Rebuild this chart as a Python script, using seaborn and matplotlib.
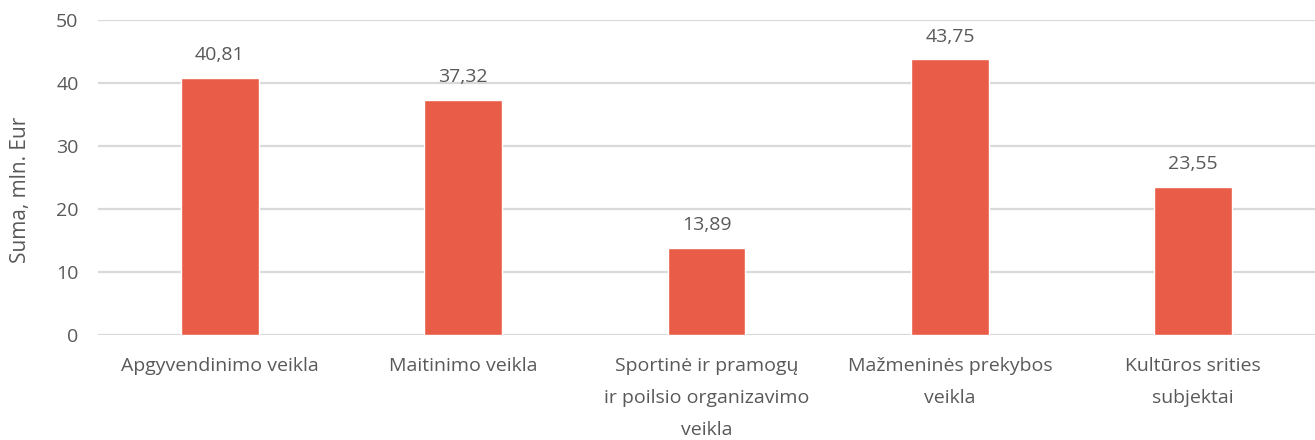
"""
Sumos pagal veiklos sritis (mln. Eur)
"""
import matplotlib
matplotlib.use("Agg")
import matplotlib.pyplot as plt
import seaborn as sns
import pandas as pd

categories = [
    "Apgyvendinimo veikla",
    "Maitinimo veikla",
    "Sportinė ir pramogų\nir poilsio organizavimo\nveikla",
    "Mažmeninės prekybos\nveikla",
    "Kultūros srities\nsubjektai",
]
values = [40.81, 37.32, 13.89, 43.75, 23.55]
value_labels = ["40,81", "37,32", "13,89", "43,75", "23,55"]
y_ticks = [0, 10, 20, 30, 40, 50]

BAR_COLOR = "#E95D48"
TEXT_COLOR = "#595959"
GRID_COLOR = "#D9D9D9"

sns.set_theme(style="white")
plt.rcParams["font.family"] = ["Open Sans", "DejaVu Sans"]

df = pd.DataFrame({"category": categories, "value": values})

fig = plt.figure(figsize=(13.15, 4.4), dpi=100)
ax = fig.add_axes([0.0745, 0.2386, 0.9255, 0.7159])

sns.barplot(data=df, x="category", y="value", color=BAR_COLOR,
            width=0.32, saturation=1, ax=ax, zorder=3)

# 値ラベル
ax.bar_label(ax.containers[0], labels=value_labels, padding=10,
             fontsize=14, color=TEXT_COLOR)

ax.set_ylim(0, 50)
ax.set_yticks(y_ticks)
ax.set_xlim(-0.5, len(categories) - 0.5)
ax.yaxis.grid(True, color=GRID_COLOR, linewidth=1.6, zorder=0)
ax.set_axisbelow(True)

for s in ax.spines.values():
    s.set_visible(False)

ax.tick_params(axis="both", length=0, colors=TEXT_COLOR, labelsize=14)
ax.tick_params(axis="y", pad=14)
ax.tick_params(axis="x", pad=16)
for lbl in ax.get_xticklabels():
    lbl.set_linespacing(2.0)
    lbl.set_verticalalignment("top")

ax.set_xlabel("")
ax.set_ylabel("Suma, mln. Eur", fontsize=15, color=TEXT_COLOR)
ax.yaxis.set_label_coords(-0.055, 0.46)

fig.savefig("out.png", dpi=100)
plt.close(fig)
